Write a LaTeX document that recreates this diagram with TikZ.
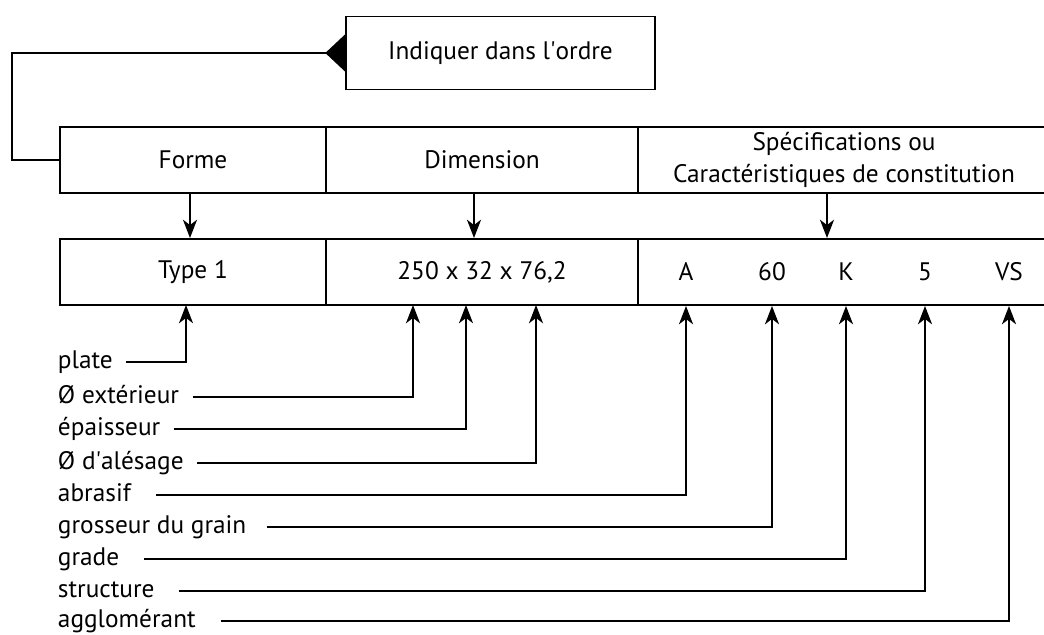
\documentclass[tikz,border=0pt]{standalone}
\usepackage{fontspec}
\setmainfont{PT Sans}
\usetikzlibrary{arrows.meta}

\begin{document}
\begin{tikzpicture}[
    x=0.025cm, y=-0.025cm,
    line width=1.4pt,
    cell/.style={rectangle, draw, minimum height=1.65cm, inner sep=0pt, align=center, font=\fontsize{18}{22.5}\selectfont},
    value/.style={inner sep=0pt, font=\fontsize{18}{22}\selectfont},
    term/.style={anchor=west, inner xsep=0pt, text height=13.5pt, text depth=4.5pt, font=\fontsize{18}{22}\selectfont},
    pointer/.style={-{Stealth[length=13pt, width=10pt, inset=3.8pt]}},
    leader/.style={pointer, shorten <=9pt}
]
    \useasboundingbox (0,0) rectangle (1044,635);

    % Instruction box and return line
    \node[cell, minimum width=7.725cm, minimum height=1.825cm] (ordre) at (500.5, 53) {Indiquer dans l\textquotesingle ordre};
    \coordinate (bend) at (12, 53);

    % First row: headings
    \node[cell, minimum width=6.65cm] (forme) at (193, 160) {Forme};
    \node[cell, minimum width=7.8cm] (dim) at (482, 160) {Dimension};
    \node[cell, minimum width=10.3cm] (spec) at (844, 160) {Spécifications ou\\Caractéristiques de constitution};

    \draw[-{Triangle[reversed, length=14pt, width=26pt]}] (forme.west) -| (bend) -- (ordre.west);

    % Second row: example values
    \node[cell, minimum width=6.65cm] (type) at (193, 272) {Type 1};
    \node[cell, minimum width=7.8cm] (dimval) at (482, 272) {250 x 32 x 76,2};
    \node[cell, minimum width=10.3cm] (specval) at (844, 272) {};
    \node[value] (vA) at (686, 272) {A};
    \node[value] (v60) at (772, 272) {60};
    \node[value] (vK) at (846, 272) {K};
    \node[value] (v5) at (925, 272) {5};
    \node[value] (vVS) at (1009, 272) {VS};

    \draw[pointer] ([xshift=-0.075cm]forme.south) -- ([xshift=-0.075cm]type.north);
    \draw[pointer] ([xshift=-0.2cm]dim.south) -- ([xshift=-0.2cm]dimval.north);
    \draw[pointer] ([xshift=-0.425cm]spec.south) -- ([xshift=-0.425cm]specval.north);

    % Meaning of each value
    \coordinate (p1) at (186, 305);
    \coordinate (p2) at (413, 305);
    \coordinate (p3) at (466, 305);
    \coordinate (p4) at (536, 305);

    \node[term] (plate) at (57, 362) {plate};
    \node[term] (diamext) at (57, 397) {Ø extérieur};
    \node[term] (epais) at (57, 429) {épaisseur};
    \node[term] (alesage) at (57, 463) {Ø d\textquotesingle alésage};
    \node[term] (abrasif) at (57, 495) {abrasif};
    \node[term] (grain) at (57, 527) {grosseur du grain};
    \node[term] (grade) at (57, 559) {grade};
    \node[term] (struct) at (57, 591) {structure};
    \node[term] (agglo) at (57, 621) {agglomérant};

    \draw[leader] (plate.east) -| (p1);
    \draw[leader] (diamext.east) -| (p2);
    \draw[leader] (epais.east) -| (p3);
    \draw[leader] (alesage.east) -| (p4);
    \draw[leader, shorten <=17pt] (abrasif.east) -| (vA |- specval.south);
    \draw[leader, shorten <=14pt] (grain.east) -| (v60 |- specval.south);
    \draw[leader, shorten <=17pt] (grade.east) -| (vK |- specval.south);
    \draw[leader, shorten <=17pt] (struct.east) -| (v5 |- specval.south);
    \draw[leader, shorten <=17pt] (agglo.east) -| (vVS |- specval.south);
\end{tikzpicture}
\end{document}
